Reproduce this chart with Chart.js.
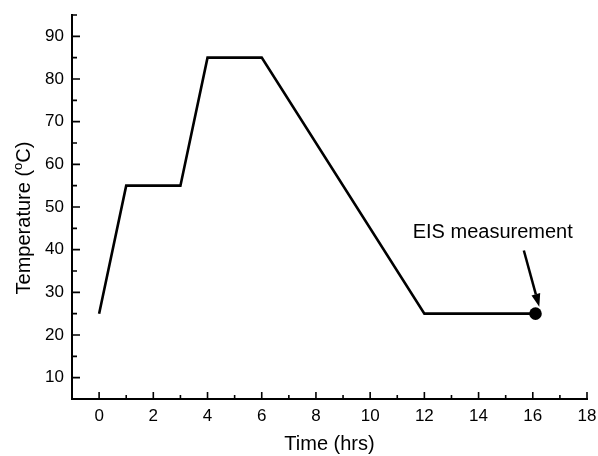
<!DOCTYPE html>
<html>
<head>
<meta charset="utf-8">
<script src="https://cdn.jsdelivr.net/npm/chart.js@4/dist/chart.umd.min.js"></script>
<style>
  html, body { margin: 0; padding: 0; background: #fff; }
  #wrap { width: 598px; height: 456px; }
</style>
</head>
<body>
<div id="wrap"><canvas id="c"></canvas></div>
<script>
// temperature profile (hrs, degC)
const timeHrs = [0, 1, 3, 4, 6, 12, 16.1];
const tempC = [25, 55, 55, 85, 85, 25, 25];
// EIS measurement point
const eisTime = [16.1];
const eisTemp = [25];

const xTicks = [0, 2, 4, 6, 8, 10, 12, 14, 16, 18];
const yTicks = [10, 20, 30, 40, 50, 60, 70, 80, 90];
const xMinor = [1, 3, 5, 7, 9, 11, 13, 15, 17];
const yMinor = [15, 25, 35, 45, 55, 65, 75, 85, 95];

// annotation anchors in data units
const noteText = "EIS measurement";
const noteAt = { x: 11.57, y: 42.7 };
const arrowFrom = { x: 15.67, y: 39.8 };
const arrowTo = { x: 16.24, y: 26.6 };

const FONT = "'Liberation Sans', Arial, Helvetica, sans-serif";

// inward tick marks, arrow, label and y title (with superscript o)
const extras = {
  id: "extras",
  afterDraw(chart) {
    const ctx = chart.ctx;
    const xs = chart.scales.x, ys = chart.scales.y;
    const a = chart.chartArea;
    ctx.save();
    ctx.strokeStyle = "#000";
    ctx.lineWidth = 1.6;
    ctx.beginPath();
    xTicks.forEach(v => { const p = xs.getPixelForValue(v); ctx.moveTo(p, a.bottom); ctx.lineTo(p, a.bottom - 7); });
    xMinor.forEach(v => { const p = xs.getPixelForValue(v); ctx.moveTo(p, a.bottom); ctx.lineTo(p, a.bottom - 4); });
    yTicks.forEach(v => { const p = ys.getPixelForValue(v); ctx.moveTo(a.left, p); ctx.lineTo(a.left + 8, p); });
    yMinor.forEach(v => { const p = ys.getPixelForValue(v); ctx.moveTo(a.left, p); ctx.lineTo(a.left + 5, p); });
    ctx.stroke();

    // arrow
    const x1 = xs.getPixelForValue(arrowFrom.x), y1 = ys.getPixelForValue(arrowFrom.y);
    const x2 = xs.getPixelForValue(arrowTo.x), y2 = ys.getPixelForValue(arrowTo.y);
    const ang = Math.atan2(y2 - y1, x2 - x1);
    const hl = 13, hw = 4.5;
    const bx = x2 - hl * Math.cos(ang), by = y2 - hl * Math.sin(ang);
    ctx.lineWidth = 2.5;
    ctx.beginPath();
    ctx.moveTo(x1, y1);
    ctx.lineTo(bx, by);
    ctx.stroke();
    ctx.fillStyle = "#000";
    ctx.beginPath();
    ctx.moveTo(x2, y2);
    ctx.lineTo(bx + hw * Math.sin(ang), by - hw * Math.cos(ang));
    ctx.lineTo(bx - hw * Math.sin(ang), by + hw * Math.cos(ang));
    ctx.closePath();
    ctx.fill();

    // label
    ctx.font = "20px " + FONT;
    ctx.textAlign = "left";
    ctx.textBaseline = "alphabetic";
    ctx.fillText(noteText, xs.getPixelForValue(noteAt.x), ys.getPixelForValue(noteAt.y));

    // y axis title: "Temperature (" + sup "o" + "C)"
    const big = "20px " + FONT, small = "13px " + FONT;
    const p1 = "Temperature (", p2 = "o", p3 = "C)";
    ctx.font = big; const w1 = ctx.measureText(p1).width, w3 = ctx.measureText(p3).width;
    ctx.font = small; const w2 = ctx.measureText(p2).width;
    const total = w1 + w2 + w3;
    ctx.translate(30, 218);
    ctx.rotate(-Math.PI / 2);
    let cx = -total / 2;
    ctx.font = big; ctx.fillText(p1, cx, 0); cx += w1;
    ctx.font = small; ctx.fillText(p2, cx, -8); cx += w2;
    ctx.font = big; ctx.fillText(p3, cx, 0);
    ctx.restore();
  }
};

new Chart(document.getElementById("c"), {
  type: "line",
  data: {
    datasets: [
      {
        data: timeHrs.map((t, i) => ({ x: t, y: tempC[i] })),
        borderColor: "#000",
        borderWidth: 2.6,
        pointRadius: 0,
        tension: 0,
        fill: false,
      },
      {
        data: eisTime.map((t, i) => ({ x: t, y: eisTemp[i] })),
        showLine: false,
        pointRadius: 6.3,
        pointBackgroundColor: "#000",
        pointBorderColor: "#000",
        pointBorderWidth: 0,
      },
    ],
  },
  options: {
    responsive: true,
    maintainAspectRatio: false,
    animation: false,
    layout: { padding: { top: 15, right: 11, left: 0, bottom: 0 } },
    plugins: { legend: { display: false }, tooltip: { enabled: false } },
    scales: {
      x: {
        type: "linear",
        min: -1,
        max: 18,
        afterBuildTicks: s => { s.ticks = xTicks.map(v => ({ value: v })); },
        afterFit: s => { s.height = 57; s.paddingLeft = 0; s.paddingRight = 0; },
        grid: { display: false, drawTicks: false },
        border: { display: true, color: "#000", width: 2 },
        ticks: { color: "#000", padding: 7, maxRotation: 0, autoSkip: false, font: { family: FONT, size: 17 } },
        title: { display: true, text: "Time (hrs)", color: "#000", padding: 0, font: { family: FONT, size: 20 } },
      },
      y: {
        min: 5,
        max: 95,
        afterBuildTicks: s => { s.ticks = yTicks.map(v => ({ value: v })); },
        afterFit: s => { s.width = 72; s.paddingTop = 0; s.paddingBottom = 0; },
        grid: { display: false, drawTicks: false },
        border: { display: true, color: "#000", width: 2 },
        ticks: { color: "#000", padding: 8, autoSkip: false, font: { family: FONT, size: 17 } },
      },
    },
  },
  plugins: [extras],
});
</script>
</body>
</html>
